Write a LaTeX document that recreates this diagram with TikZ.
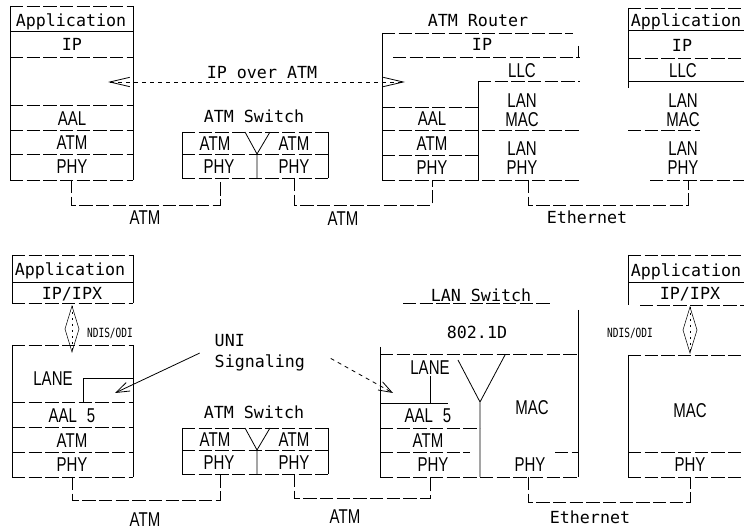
\documentclass[tikz,border=0pt]{standalone}
\usepackage{fontspec}
\newfontfamily\monof{DejaVu Sans Mono}
\newfontfamily\monon{DejaVu Sans Mono}[FakeStretch=0.75]
\newfontfamily\narrowf{Liberation Sans}[FakeStretch=0.75]
\usetikzlibrary{arrows.meta, positioning}

\begin{document}
\begin{tikzpicture}[x=0.75pt, y=-0.75pt, line width=0.6pt,
    txt/.style={font=\monof\fontsize{12.5}{14}\selectfont, inner sep=1pt, text height=9.2pt, text depth=0pt},
    ab/.style={font=\narrowf\fontsize{15}{14.25}\selectfont, inner sep=1pt, text height=10.7pt, text depth=0pt},
    abm/.style={font=\narrowf\fontsize{15}{14.25}\selectfont, inner sep=1pt, align=center},
    tiny/.style={font=\monon\fontsize{9.5}{11}\selectfont, inner sep=1pt},
    brk/.style={dash pattern=on 10pt off 2.5pt},
    api/.style={line width=0.4pt},
    sig/.style={-{Straight Barb[length=10pt,width=7pt]}},
    both/.style={{Straight Barb[length=15pt,width=7pt]}-{Straight Barb[length=15pt,width=7pt]}}]
    \useasboundingbox (0,0) rectangle (744,530);

    % IP over ATM: end host (left)
    \draw (10,6) -- (10,180) (133,6) -- (133,180);
    \draw[brk] (10,6) -- (133,6);
    \draw (10,31) -- (133,31);
    \foreach \y in {57,105,130,154,180} \draw[brk] (10,\y) -- (133,\y);
    \node[txt] (a-app) at (71,20) {Application};
    \node[txt] (a-ip) at (72,44) {IP};
    \node[ab] (a-aal) at (72,118) {AAL};
    \node[ab] (a-atm) at (72,142) {ATM};
    \node[ab] (a-phy) at (72,166) {PHY};
    \coordinate (a-out) at (71,180);

    % ATM switches (both rows)
    \foreach \k/\dy in {a/0, b/296} {
      \begin{scope}[shift={(0,\dy)}]
        \node[txt] (sw\k) at (254,116) {ATM Switch};
        \draw (182,132) -- (182,178) (328,132) -- (328,178);
        \draw[brk] (182,132) -- (328,132) (182,154) -- (328,154) (182,178) -- (328,178);
        \draw (245,132) -- (257,154) -- (270,132) (257,154) -- (257,178);
        \node[ab] (sw\k-atm1) at (215,143) {ATM};
        \node[ab] (sw\k-atm2) at (294,143) {ATM};
        \node[ab] (sw\k-phy1) at (219,166) {PHY};
        \node[ab] (sw\k-phy2) at (294,166) {PHY};
        \coordinate (sw\k-l) at (220,178);
        \coordinate (sw\k-r) at (294,178);
      \end{scope}
    }

    % ATM router
    \node[txt] (rt) at (478,20) {ATM Router};
    \draw[brk] (382,33) -- (573,33);
    \draw (382,33) -- (382,180);
    \node[txt] (rt-ip) at (482,44) {IP};
    \draw[brk] (393,57) -- (580,57);
    \draw (578,46) -- (578,57);
    \node[ab] (rt-llc) at (522,70) {LLC};
    \draw[brk] (478,81) -- (580,81);
    \draw (478,81) -- (478,180);
    \draw[brk] (382,107) -- (478,107);
    \node[ab] (rt-aal) at (432,118) {AAL};
    \node[abm] (rt-mac) at (522,110) {LAN\\MAC};
    \draw[brk] (382,130) -- (580,130);
    \node[ab] (rt-atm) at (432,143) {ATM};
    \draw[brk] (382,155) -- (478,155);
    \node[ab] (rt-phy) at (432,167) {PHY};
    \node[abm] (rt-lphy) at (522,158) {LAN\\PHY};
    \draw[brk] (382,180) -- (580,180);
    \coordinate (rt-a) at (432,180);
    \coordinate (rt-e) at (528,180);

    % end host (right)
    \draw (628,8) -- (628,88);
    \draw[brk] (628,8) -- (744,8);
    \node[txt] (b-app) at (686,20) {Application};
    \draw (628,30) -- (744,30);
    \node[txt] (b-ip) at (682,45) {IP};
    \draw[brk] (628,58) -- (744,58);
    \node[ab] (b-llc) at (683,70) {LLC};
    \draw (628,81) -- (744,81);
    \node[abm] (b-mac) at (683,110) {LAN\\MAC};
    \draw[brk] (628,130) -- (700,130);
    \node[abm] (b-phy) at (683,158) {LAN\\PHY};
    \draw[brk] (650,180) -- (744,180);
    \coordinate (b-out) at (688,180);

    % links and the IP over ATM arrow
    \draw[brk] (a-out) -- ++(0,25) -| (swa-l);
    \draw[brk] (swa-r) -- ++(0,27) -| (rt-a);
    \draw[brk] (rt-e) -- ++(0,25) -| (b-out);
    \node[ab] (atm1) at (145,217) {ATM};
    \node[ab] (atm2) at (343,218) {ATM};
    \node[txt] (eth1) at (587,217) {Ethernet};
    \coordinate (ipL) at (108,82);
    \coordinate (ipR) at (405,82);
    \draw[dashed, both] (ipL) -- (ipR);
    \node[txt] (ipatm) at (262,72) {IP over ATM};

    % LANE: end host (left)
    \draw (12,255) -- (12,303) (133,255) -- (133,303);
    \draw[brk] (12,255) -- (133,255) (12,303) -- (133,303);
    \draw (12,282) -- (133,282);
    \node[txt] (c-app) at (70,269) {Application};
    \node[txt] (c-ip) at (72,293) {IP/IPX};
    \coordinate (c-api) at (72,306);
    \draw[api] (c-api) -- ++(7,23) -- ++(-7,23) -- ++(-7,-23) -- cycle;
    \draw[api, dash pattern=on 1.5pt off 3pt] (c-api) -- ++(0,46);
    \node[tiny] (c-ndis) at (110,333) {NDIS/ODI};
    \draw (12,345) -- (12,477) (133,345) -- (133,477);
    \draw[brk] (12,345) -- (133,345);
    \node[ab] (c-lane) at (53,378) {LANE};
    \draw (83,402) -- (83,378) -- (133,378);
    \draw[brk] (12,402) -- (133,402);
    \coordinate (c-sig) at (115,393);
    \node[ab] (c-aal) at (72,415) {AAL\enspace 5};
    \draw[brk] (12,427) -- (133,427);
    \node[ab] (c-atm) at (72,440) {ATM};
    \draw[brk] (12,452) -- (133,452);
    \node[ab] (c-phy) at (72,464) {PHY};
    \draw[brk] (12,477) -- (133,477);
    \coordinate (c-out) at (72,477);

    % LAN switch
    \node[txt] (ls) at (481,295) {LAN Switch};
    \draw[brk] (403,303) -- (550,303);
    \node[txt] (ls-std) at (477,332) {802.1D};
    \draw[brk] (380,354) -- (578,354);
    \draw (380,347) -- (380,477) (578,310) -- (578,477);
    \node[ab] (ls-lane) at (430,367) {LANE};
    \draw (ls-lane) -- (430,403);
    \draw (380,403) -- (448,403);
    \coordinate (ls-sig) at (393,393);
    \node[ab] (ls-aal) at (428,415) {AAL\enspace 5};
    \draw[brk] (380,428) -- (480,428);
    \node[ab] (ls-atm) at (428,440) {ATM};
    \draw[brk] (380,452) -- (470,452);
    \node[ab] (ls-phy) at (433,464) {PHY};
    \draw (458,360) -- (480,402) -- (505,355) (480,402) -- (480,477);
    \node[ab] (ls-mac) at (532,407) {MAC};
    \node[ab] (ls-ephy) at (530,464) {PHY};
    \draw[brk] (555,452) -- (578,452);
    \draw[brk] (380,477) -- (578,477);
    \coordinate (ls-a) at (430,477);
    \coordinate (ls-e) at (528,477);

    % end host (right)
    \draw[brk] (628,255) -- (744,255);
    \draw (628,255) -- (628,305);
    \draw (628,282) -- (744,282);
    \draw[brk] (640,305) -- (744,305);
    \node[txt] (d-app) at (686,270) {Application};
    \node[txt] (d-ip) at (690,293) {IP/IPX};
    \coordinate (d-api) at (690,307);
    \draw[api] (d-api) -- ++(7,23) -- ++(-7,23) -- ++(-7,-23) -- cycle;
    \draw[api, dash pattern=on 1.5pt off 3pt] (d-api) -- ++(0,46);
    \node[tiny] (d-ndis) at (630,333) {NDIS/ODI};
    \draw[brk] (628,355) -- (744,355);
    \draw (628,355) -- (628,477);
    \node[ab] (d-mac) at (690,410) {MAC};
    \draw[brk] (628,452) -- (744,452);
    \node[ab] (d-phy) at (690,464) {PHY};
    \draw[brk] (628,477) -- (744,477);
    \coordinate (d-out) at (690,477);

    % links and UNI signalling
    \draw[brk] (c-out) -- ++(0,23) -| (swb-l);
    \draw[brk] (swb-r) -- ++(0,24) -| (ls-a);
    \draw[brk] (ls-e) -- ++(0,25) -| (d-out);
    \node[ab] (atm3) at (145,519) {ATM};
    \node[ab] (atm4) at (345,516) {ATM};
    \node[txt] (eth2) at (590,517) {Ethernet};
    \node[txt, text height=, text depth=, align=left, anchor=north west, font=\monof\fontsize{12.5}{15.75}\selectfont] (uni) at (213,333) {UNI\\Signaling};
    \draw[sig] ([xshift=-10pt]uni.west) -- (c-sig);
    \draw[sig, dashed] ([xshift=18pt,yshift=-4pt]uni.east) -- (ls-sig);
\end{tikzpicture}
\end{document}
